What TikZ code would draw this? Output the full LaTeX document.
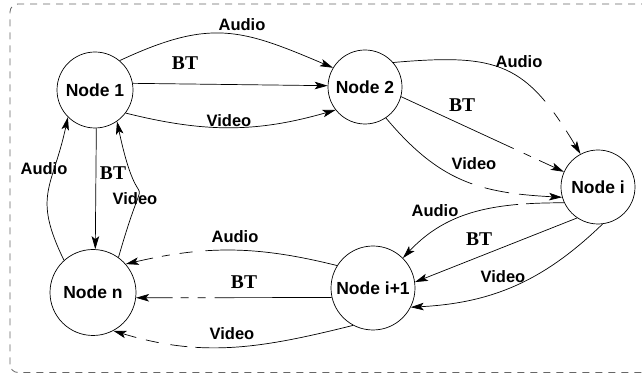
\documentclass[tikz,border=0pt]{standalone}
\usepackage{fontspec}
\setmainfont{Liberation Sans}
\newfontfamily\btfont{Liberation Serif}
\usetikzlibrary{arrows.meta}
\tikzset{
  nd/.style={circle,draw,line width=0.7pt,inner sep=0pt,font=\fontsize{17.5}{20}\selectfont\bfseries},
  ar/.style={line width=0.7pt,-{Stealth[length=13pt,width=7.5pt,inset=3pt]}},
  lab/.style={inner sep=0pt,font=\fontsize{16.5}{19}\selectfont\bfseries},
  btlab/.style={inner sep=0pt,font=\fontsize{19.5}{22}\selectfont\btfont\bfseries},
  frame/.style={draw=black!60,line width=0.8pt,dash pattern=on 7pt off 6pt,rounded corners=8pt}
}
\begin{document}
\begin{tikzpicture}[x=1pt,y=1pt]
\useasboundingbox (0,0) rectangle (642,374);
\begin{scope}
\clip (0,0) rectangle (642,374);
\draw[frame] (10,1.5) rectangle (662,370);
\end{scope}
% nodes
\node[nd,minimum size=76pt] (n1) at (95,284) {Node 1};
\node[nd,minimum size=74pt] (n2) at (365,287) {Node 2};
\node[nd,minimum size=74pt] (ni) at (598,187) {Node i};
\node[nd,minimum size=84pt] (nip) at (373,86) {Node i+1};
\node[nd,minimum size=86pt] (nn) at (93,81.5) {Node n};
% Node 1 -> Node 2
\draw[ar] (n1.50) to[out=25,in=157,looseness=1.2] (n2.149);
\draw[ar] (n1.10) -- (n2.178);
\draw[ar] (n1.-37) to[out=-14,in=-164] (n2.-142);
% Node 2 -> Node i
\draw[ar,dash pattern=on 165pt off 14pt on 11pt off 11pt on 400pt] (n2.41) to[out=5,in=121,looseness=1.3] (ni.118);
\draw[ar,dash pattern=on 124pt off 11pt on 8pt off 9pt on 400pt] (n2.-15) -- (ni.156);
\draw[ar,dash pattern=on 110pt off 13pt on 25pt off 10pt on 400pt] (n2.-56) to[out=-50,in=177,looseness=1.1] (ni.-164);
% Node i -> Node i+1
\draw[ar,dash pattern=on 38pt off 8pt on 400pt] (ni.-155) to[out=180,in=47] (nip.45);
\draw[ar] (ni.-124) -- (nip.8.5);
\draw[ar] (ni.-83) to[out=-136,in=3] (nip.-27);
% Node i+1 -> Node n
\draw[ar,dash pattern=on 133pt off 13pt on 13pt off 10pt on 8pt off 9pt on 400pt] (nip.148) to[out=166,in=13] (nn.41.5);
\draw[ar,dash pattern=on 117pt off 9pt on 8pt off 9pt on 8pt off 8pt on 400pt] (nip.193) -- (nn.-7.5);
\draw[ar,dash pattern=on 160pt off 8pt on 17pt off 12pt on 13pt off 10pt on 400pt] (nip.-118) to[out=-166,in=-17] (nn.-62);
% Node n <-> Node 1
\draw[ar] (nn.132) to[out=116,in=-102,looseness=1.3] (n1.-135);
\draw[ar] (n1.-88) -- (nn.87);
\draw[ar] (nn.54) to[out=74,in=-78,looseness=2.2] (n1.-55);
% labels
\node[lab] (l1) at (242,349) {Audio};
\node[btlab] (l2) at (185,311) {BT};
\node[lab] (l3) at (229,253) {Video};
\node[lab] (l4) at (519,312) {Audio};
\node[btlab] (l5) at (462,269) {BT};
\node[lab] (l6) at (474,210) {Video};
\node[lab] (l7) at (435,163) {Audio};
\node[btlab] (l8) at (479,135) {BT};
\node[lab] (l9) at (503,97) {Video};
\node[lab] (l10) at (235,137) {Audio};
\node[btlab] (l11) at (244,92) {BT};
\node[lab] (l12) at (232,40) {Video};
\node[lab] (l13) at (44,205) {Audio};
\node[btlab] (l14) at (113,201) {BT};
\node[lab] (l15) at (135,175) {Video};
\end{tikzpicture}
\end{document}
